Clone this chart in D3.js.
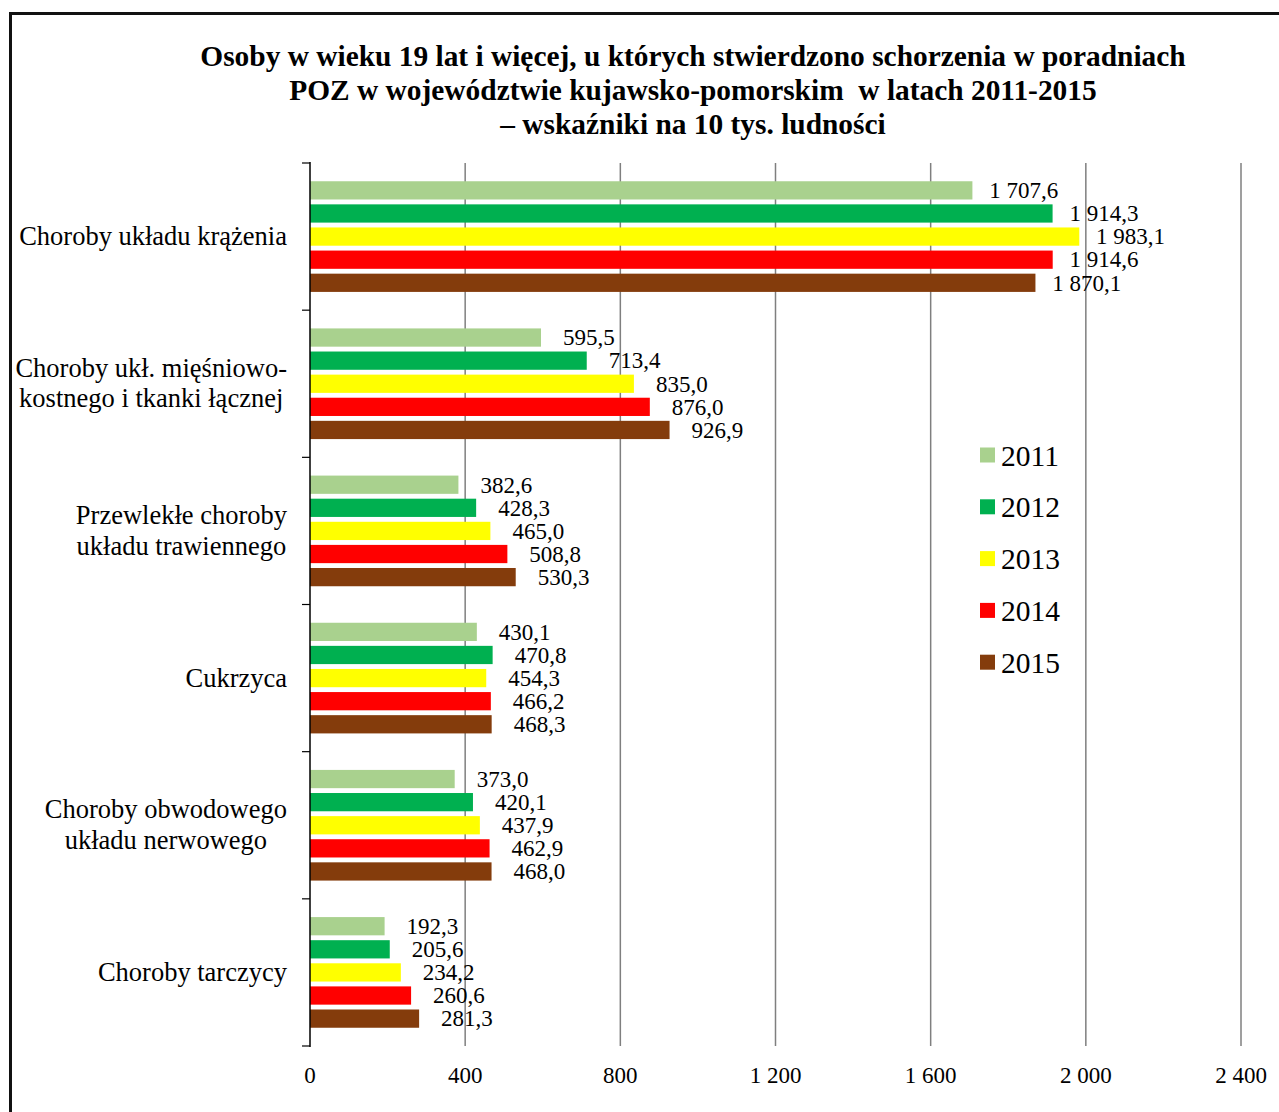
<!DOCTYPE html>
<html><head><meta charset="utf-8">
<script src="https://cdn.jsdelivr.net/npm/d3@7"></script>
<style>
html,body{margin:0;padding:0;background:#fff;}
svg{display:block;font-family:"Liberation Serif","Times New Roman",serif;}
</style></head>
<body>
<svg id="chart" width="1279" height="1112"></svg>
<script>
const categories = [
  ["Choroby układu krążenia"],
  ["Choroby ukł. mięśniowo-", "kostnego i tkanki łącznej"],
  ["Przewlekłe choroby", "układu trawiennego"],
  ["Cukrzyca"],
  ["Choroby obwodowego", "układu nerwowego"],
  ["Choroby tarczycy"]
];
const years = ["2011", "2012", "2013", "2014", "2015"];
const colors = ["#A9D18E", "#00B050", "#FFFF00", "#FF0000", "#843C0C"];
const v2011 = [1707.6, 595.5, 382.6, 430.1, 373.0, 192.3];
const v2012 = [1914.3, 713.4, 428.3, 470.8, 420.1, 205.6];
const v2013 = [1983.1, 835.0, 465.0, 454.3, 437.9, 234.2];
const v2014 = [1914.6, 876.0, 508.8, 466.2, 462.9, 260.6];
const v2015 = [1870.1, 926.9, 530.3, 468.3, 468.0, 281.3];
const xTicks = [0, 400, 800, 1200, 1600, 2000, 2400];
const titleLines = [
  "Osoby w wieku 19 lat i więcej, u których stwierdzono schorzenia w poradniach",
  "POZ w województwie kujawsko-pomorskim  w latach 2011-2015",
  "– wskaźniki na 10 tys. ludności"
];

const series = [v2011, v2012, v2013, v2014, v2015];
const svg = d3.select("#chart");

// frame
svg.append("rect").attr("x", 10.5).attr("y", 13.5).attr("width", 1400).attr("height", 1300)
  .attr("fill", "none").attr("stroke", "#111").attr("stroke-width", 3);

// title
svg.append("g").selectAll("text").data(titleLines).join("text")
  .attr("x", 693).attr("y", (d, i) => 66 + i * 34)
  .attr("text-anchor", "middle").attr("font-weight", "bold").attr("font-size", 29.4)
  .style("white-space", "pre").attr("fill", "#000")
  .text(d => d);

const x = d3.scaleLinear().domain([0, 2400]).range([310, 1241]);
const y = d3.scaleBand().domain(d3.range(categories.length)).range([163, 1046]).padding(0);
const yi = d3.scaleBand().domain(years).range([0, y.bandwidth()]).paddingInner(0.21).paddingOuter(0.79);

// gridlines
svg.append("g").selectAll("line").data(xTicks.filter(t => t > 0)).join("line")
  .attr("x1", d => x(d)).attr("x2", d => x(d)).attr("y1", 163).attr("y2", 1046)
  .attr("stroke", "#7f7f7f").attr("stroke-width", 1.5);

// bars
const gCat = svg.append("g").selectAll("g").data(categories).join("g")
  .attr("transform", (d, i) => `translate(0,${y(i)})`);
gCat.each(function(c, ci) {
  const g = d3.select(this);
  years.forEach((yr, si) => {
    const val = series[si][ci];
    g.append("rect").attr("x", x(0)).attr("y", yi(yr))
      .attr("width", x(val) - x(0)).attr("height", yi.bandwidth())
      .attr("fill", colors[si]);
  });
});

// data labels
const fmt = v => {
  const s = v.toFixed(1).replace(".", ",");
  const [intp, dec] = s.split(",");
  const ip = intp.length > 3 ? intp.slice(0, intp.length - 3) + " " + intp.slice(-3) : intp;
  return ip + "," + dec;
};
gCat.each(function(c, ci) {
  const g = d3.select(this);
  years.forEach((yr, si) => {
    const val = series[si][ci];
    const t = g.append("text").attr("font-size", 23).attr("fill", "#000")
      .style("white-space", "pre")
      .attr("y", yi(yr) + yi.bandwidth() / 2 + 7.8).text(fmt(val));
    const w = t.node().getComputedTextLength();
    t.attr("x", x(val) + 22 - (w - 51.75) * 0.3);
  });
});

// y axis
svg.append("line").attr("x1", 310).attr("x2", 310).attr("y1", 162).attr("y2", 1047)
  .attr("stroke", "#000").attr("stroke-width", 1.5);
svg.append("g").selectAll("line").data(d3.range(categories.length + 1)).join("line")
  .attr("x1", 302).attr("x2", 310)
  .attr("y1", d => d < categories.length ? y(d) : y.range()[1])
  .attr("y2", d => d < categories.length ? y(d) : y.range()[1])
  .attr("stroke", "#000").attr("stroke-width", 1.2);

// category labels
gCat.each(function(c, ci) {
  const g = d3.select(this);
  const lh = 30.5;
  const mid = y.bandwidth() / 2;
  const tg = g.append("g");
  const texts = c.map((line, li) => tg.append("text").attr("font-size", 26.5).attr("fill", "#000")
    .attr("text-anchor", "middle")
    .attr("y", mid + (li - (c.length - 1) / 2) * lh + 8.5).text(line));
  const maxW = d3.max(texts, t => t.node().getComputedTextLength());
  texts.forEach(t => t.attr("x", 287 - maxW / 2));
});

// x tick labels
svg.append("g").selectAll("text").data(xTicks).join("text")
  .attr("x", d => x(d)).attr("y", 1083).attr("text-anchor", "middle")
  .attr("font-size", 23).attr("fill", "#000")
  .style("white-space", "pre")
  .text(d => d >= 1000 ? Math.floor(d / 1000) + " " + String(d % 1000).padStart(3, "0") : String(d));

// legend
const lg = svg.append("g").selectAll("g").data(years).join("g")
  .attr("transform", (d, i) => `translate(980,${455 + i * 51.8})`);
lg.append("rect").attr("x", 0).attr("y", -7.5).attr("width", 15).attr("height", 15)
  .attr("fill", (d, i) => colors[i]);
lg.append("text").attr("x", 21).attr("y", 10.5).attr("font-size", 29.5).attr("fill", "#000").text(d => d);
</script>
</body></html>
